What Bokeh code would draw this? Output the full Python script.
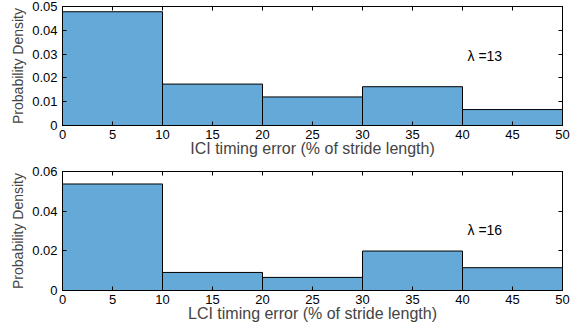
from bokeh.plotting import figure
from bokeh.layouts import column
from bokeh.models import LinearAxis, FixedTicker, Range1d, Label
from bokeh.embed import file_html
from bokeh.resources import INLINE

bin_left = [0, 10, 20, 30, 40]
bin_right = [10, 20, 30, 40, 50]
ici_density = [0.0478, 0.0174, 0.0120, 0.0163, 0.0067]
lci_density = [0.0537, 0.0091, 0.0066, 0.0199, 0.0115]
x_ticks = [0, 5, 10, 15, 20, 25, 30, 35, 40, 45, 50]
ici_yticks = [0, 0.01, 0.02, 0.03, 0.04, 0.05]
lci_yticks = [0, 0.02, 0.04, 0.06]

FONT = "Liberation Sans"
NARROW = "Liberation Sans Narrow, Liberation Sans"
BAR = "#64a9d8"


def style_axis(ax, ticks, labels=True, standoff=3):
    ax.ticker = FixedTicker(ticks=ticks)
    ax.major_tick_in = 4
    ax.major_tick_out = 0
    ax.minor_tick_line_color = None
    ax.axis_line_color = "black"
    ax.major_tick_line_color = "black"
    ax.major_label_text_font = FONT
    ax.major_label_text_font_size = "13px"
    ax.major_label_text_color = "black"
    ax.major_label_standoff = standoff
    if not labels:
        ax.major_label_overrides = {t: "" for t in ticks}
        ax.major_label_standoff = 0


def make(density, yticks, ymax, xlabel, lam, lam_y, height, top_border, bottom_border):
    p = figure(width=570, height=height, output_backend="svg", toolbar_location=None,
               x_range=Range1d(0, 50), y_range=Range1d(0, ymax),
               min_border_left=62, min_border_right=8, min_border_top=top_border,
               min_border_bottom=bottom_border)
    p.xgrid.visible = False
    p.ygrid.visible = False
    p.outline_line_color = "black"
    p.background_fill_color = "white"
    p.quad(left=bin_left, right=bin_right, top=density, bottom=0,
           fill_color=BAR, line_color="black", line_width=1)
    style_axis(p.xaxis[0], x_ticks, standoff=4)
    style_axis(p.yaxis[0], yticks, standoff=5)
    p.yaxis[0].major_label_overrides = {0: "0"}
    p.xaxis[0].axis_label = xlabel
    p.xaxis[0].axis_label_text_font = FONT
    p.xaxis[0].axis_label_text_font_size = "16px"
    p.xaxis[0].axis_label_text_font_style = "normal"
    p.xaxis[0].axis_label_standoff = -2
    p.yaxis[0].axis_label = "Probability Density"
    p.yaxis[0].axis_label_text_font = NARROW
    p.yaxis[0].axis_label_text_font_size = "14px"
    p.yaxis[0].axis_label_text_font_style = "normal"
    p.yaxis[0].axis_label_standoff = 3
    ra = LinearAxis()
    style_axis(ra, yticks, labels=False)
    p.add_layout(ra, "right")
    ta = LinearAxis()
    style_axis(ta, x_ticks, labels=False)
    p.add_layout(ta, "above")
    p.add_layout(Label(x=40.5, y=lam_y, text="\u03bb =" + lam, text_font=FONT,
                       text_font_size="14px", text_baseline="middle", text_color="black"))
    return p


p1 = make(ici_density, ici_yticks, 0.05, "ICI timing error (% of stride length)", "13", 0.029, 160, 6, 35)
p2 = make(lci_density, lci_yticks, 0.06, "LCI timing error (% of stride length)", "16", 0.0304, 167, 11, 37)
layout = column(p1, p2, spacing=0)

open("out.html", "w").write(file_html(layout, INLINE))
